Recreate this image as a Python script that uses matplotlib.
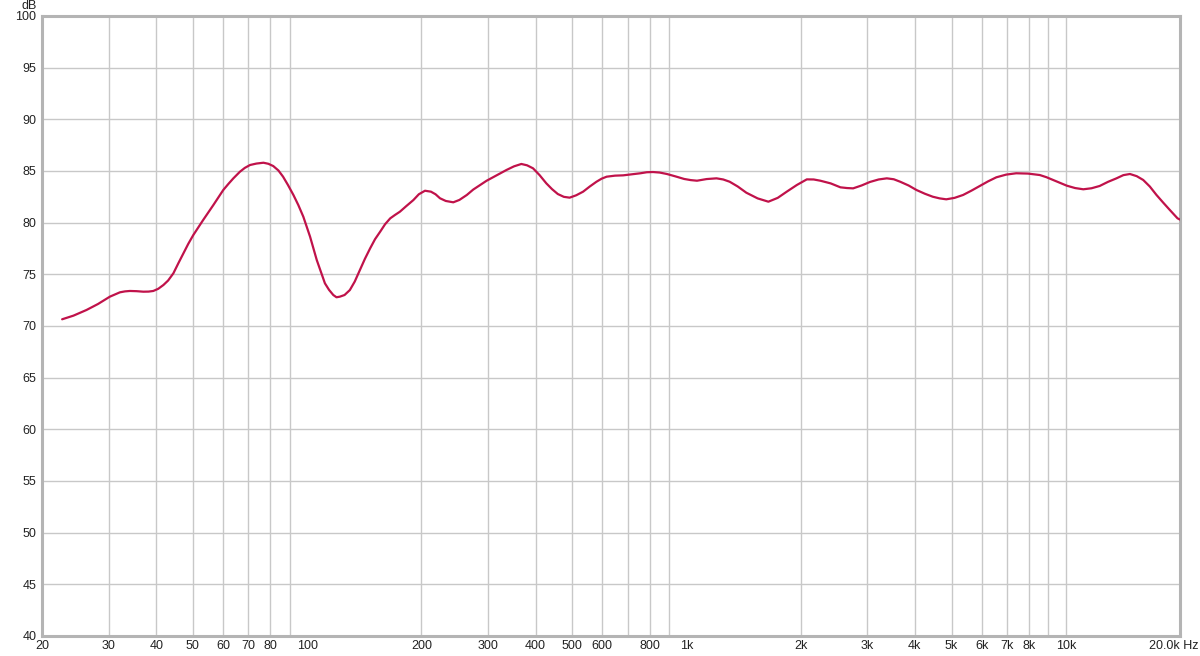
import numpy as np
import matplotlib
matplotlib.use('Agg')
import matplotlib.pyplot as plt
import matplotlib.transforms as mtransforms

plt.rcParams['font.family'] = ['Liberation Sans', 'DejaVu Sans']

# frequency response (Hz, dB)
freq = [22.6, 24.2, 26.2, 28.1, 30.2, 32.1, 33.1, 34.1, 35.5, 37.0, 38.2, 39.3,
        40.5, 41.8, 43.0, 44.4, 45.8, 47.2, 48.6, 50.1, 53.2, 56.6, 60.1, 62.0,
        63.9, 65.2, 66.5, 68.5, 70.7, 73.5, 76.7, 79.0, 81.4, 84.0, 86.4, 89.0,
        92.0, 94.8, 97.7, 101.8, 106, 111.4, 114.2, 117.2, 119.5, 122, 125.5,
        129.6, 133.5, 137.8, 142, 146.6, 151, 155.8, 160.5, 165.6, 170.5, 175.6,
        182.5, 190.6, 197, 204.5, 212, 218, 224, 232, 242.8, 252, 263.6, 274,
        285.8, 297, 309, 322, 335.4, 351, 367, 380, 394, 410, 427, 442, 458, 475,
        492, 512, 534, 556, 579, 597, 616, 648, 681, 718, 756, 786, 816, 850,
        888, 935, 986, 1026, 1066, 1130, 1200, 1250, 1300, 1365, 1438, 1540,
        1644, 1740, 1838, 1955, 2076, 2165, 2254, 2400, 2546, 2650, 2750, 2895,
        3046, 3210, 3374, 3520, 3660, 3850, 4040, 4250, 4460, 4650, 4840, 5090,
        5360, 5640, 5934, 6240, 6560, 6960, 7400, 7950, 8540, 8890, 9260, 9650,
        10060, 10580, 11120, 11690, 12280, 12920, 13600, 14180, 14760, 15380,
        16000, 16650, 17340, 18050, 18800, 19700, 20000]
spl = [70.65, 71.0, 71.55, 72.13, 72.84, 73.26, 73.35, 73.39, 73.37, 73.32, 73.33,
       73.39, 73.6, 73.97, 74.4, 75.1, 76.1, 77.03, 77.95, 78.8, 80.26, 81.71,
       83.16, 83.75, 84.29, 84.62, 84.93, 85.3, 85.58, 85.72, 85.8, 85.7, 85.48,
       85.05, 84.45, 83.65, 82.68, 81.7, 80.58, 78.64, 76.39, 74.13, 73.5, 73.0,
       72.78, 72.84, 73.0, 73.48, 74.3, 75.42, 76.5, 77.52, 78.4, 79.13, 79.85,
       80.42, 80.75, 81.06, 81.6, 82.19, 82.75, 83.09, 83.0, 82.75, 82.36, 82.1,
       81.97, 82.2, 82.68, 83.2, 83.64, 84.05, 84.39, 84.75, 85.1, 85.45, 85.68,
       85.55, 85.26, 84.6, 83.81, 83.25, 82.77, 82.5, 82.42, 82.65, 83.0, 83.5,
       83.96, 84.25, 84.45, 84.55, 84.58, 84.68, 84.78, 84.88, 84.9, 84.85,
       84.71, 84.48, 84.23, 84.12, 84.06, 84.22, 84.29, 84.18, 83.96, 83.5,
       82.9, 82.35, 82.03, 82.4, 83.0, 83.65, 84.19, 84.18, 84.06, 83.8, 83.42,
       83.35, 83.32, 83.6, 83.94, 84.18, 84.29, 84.2, 83.96, 83.6, 83.16, 82.8,
       82.51, 82.35, 82.26, 82.4, 82.68, 83.1, 83.55, 84.0, 84.39, 84.65, 84.78,
       84.75, 84.61, 84.4, 84.13, 83.85, 83.58, 83.35, 83.23, 83.33, 83.55,
       83.95, 84.29, 84.6, 84.71, 84.5, 84.13, 83.5, 82.68, 81.95, 81.23, 80.42,
       80.3]

x_ticks = [20, 30, 40, 50, 60, 70, 80, 100, 200, 300, 400, 500, 600, 800,
           1000, 2000, 3000, 4000, 5000, 6000, 7000, 8000, 10000, 20000]
x_labels = ['20', '30', '40', '50', '60', '70', '80', '100', '200', '300', '400',
            '500', '600', '800', '1k', '2k', '3k', '4k', '5k', '6k', '7k', '8k',
            '10k', '20.0k Hz']
grid_freqs = [m * d for d in (10, 100, 1000) for m in range(2, 10)] + [10000, 20000]
y_ticks = list(range(40, 101, 5))

fig = plt.figure(figsize=(12, 6.56), dpi=100)
ax = fig.add_axes([42 / 1200, 1 - 636 / 656, 1138 / 1200, 620 / 656])

for f in grid_freqs:
    ax.axvline(f, color='#c8c8c8', lw=1, zorder=1)
for y in y_ticks:
    ax.axhline(y, color='#c8c8c8', lw=1, zorder=1)

ax.plot(freq, spl, color='#c0124a', lw=1.6, zorder=3,
        solid_capstyle='round', solid_joinstyle='round')

ax.set_xscale('log')
ax.set_xlim(20, 20000)
ax.set_ylim(40, 100)
ax.minorticks_off()
ax.set_xticks(x_ticks)
ax.set_xticklabels(x_labels)
ax.set_yticks(y_ticks)
ax.set_yticklabels([str(v) for v in y_ticks])
ax.tick_params(length=0, labelsize=9, colors='#222222')
ax.tick_params(axis='x', pad=3)
ax.tick_params(axis='y', pad=4)

# nudge the last label so "Hz" fits
last = ax.get_xticklabels()[-1]
last.set_transform(last.get_transform() +
                   mtransforms.ScaledTranslation(-6 / 100, 0, fig.dpi_scale_trans))

for s in ax.spines.values():
    s.set_color('#b4b4b4')
    s.set_linewidth(2.2)

fig.text(29 / 1200, 1 - 6 / 656, 'dB', fontsize=9, color='#222222',
         ha='center', va='center')

fig.savefig('out.png', dpi=100, facecolor='white')
